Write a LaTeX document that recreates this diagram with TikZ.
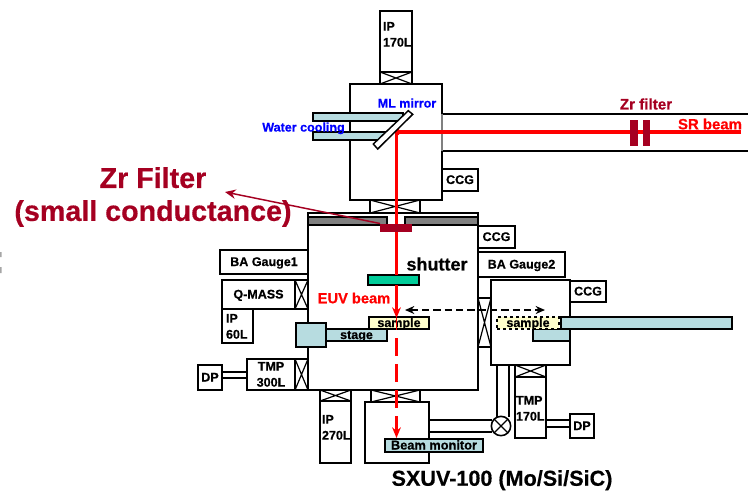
\documentclass[tikz,border=0pt]{standalone}
\usepackage{fontspec}
\setmainfont{Liberation Sans}[BoldFeatures={FakeBold=0.5}]
\usetikzlibrary{arrows.meta}
\definecolor{filt}{RGB}{165,0,33}
\definecolor{beamred}{RGB}{255,0,0}
\definecolor{mblue}{RGB}{0,0,255}
\definecolor{pale}{RGB}{183,220,224}
\definecolor{paley}{RGB}{255,255,204}
\definecolor{teal1}{RGB}{0,204,153}
\definecolor{gbar}{RGB}{128,128,128}
\tikzset{
  box/.style={draw=black,line width=1.3pt,fill=white,inner sep=0pt,outer sep=0pt,font=\bfseries\fontsize{9.4}{11}\selectfont,text height=6pt,text depth=0pt},
  thinbox/.style={box,line width=1pt},
  valve/.style={box,line width=1.1pt,path picture={\draw[black,line width=.9pt] (path picture bounding box.north west)--(path picture bounding box.south east) (path picture bounding box.north east)--(path picture bounding box.south west);}},
  lab/.style={inner sep=0pt,outer sep=0pt,font=\bfseries\fontsize{9.4}{11}\selectfont,text height=6.8pt,text depth=0pt},
  mlab/.style={inner sep=0pt,outer sep=0pt,font=\bfseries\fontsize{9.4}{12}\selectfont,align=left,anchor=north west},
  pipe/.style={draw=black,line width=1.2pt},
  beam/.style={draw=beamred,line width=2pt},
  tip/.style={-{Stealth[length=8pt,width=6.5pt]}},
  ddash/.style={draw=black,line width=1.3pt,dash pattern=on 5.5pt off 3pt,{Stealth[length=7pt,width=6pt]}-{Stealth[length=7pt,width=6pt]}}
}
\newcommand{\bx}[7][box]{\node[#1,minimum width={(#5-#3)*0.75pt},minimum height={(#6-#4)*0.75pt}] (#2) at ({(#3+#5)/2},{(#4+#6)/2}) {#7};}
\begin{document}
\begin{tikzpicture}[x=0.75pt,y=-0.75pt]
\useasboundingbox (0,0) rectangle (748,490);
% clipped marks at the left edge
\path[fill=gray!70] (0,252) rectangle (1.5,257) (0,267) rectangle (1.5,273);
% SR pipe
\coordinate (srTL) at (442,114); \coordinate (srTR) at (748,114);
\coordinate (srBL) at (442,151); \coordinate (srBR) at (748,151);
\draw[pipe] (srTL)--(srTR); \draw[pipe] (srBL)--(srBR);
% top pump and mirror chamber
\bx[valve]{vTop}{380}{72}{412}{84}{}
\bx{ipTop}{380}{11}{412}{72}{}
\bx{mirrorCh}{350}{84}{442}{200}{}
\bx[thinbox,fill=pale]{tubeA}{313}{114}{403}{120}{}
\bx[thinbox,fill=pale]{tubeB}{313}{133}{385}{139}{}
\draw[draw=gray,line width=1pt] (srTL)--(srBL);
% main chamber
\bx[valve]{vMid}{370}{200}{420}{213}{}
\bx{mainCh}{308}{213}{478}{390}{}
\bx[thinbox,fill=gbar]{barL}{308}{218}{387}{224}{}
\bx[thinbox,fill=gbar]{barR}{405}{218}{478}{224}{}
% left attachments
\bx{ba1}{220}{250}{308}{274}{BA Gauge1}
\bx{qmass}{222}{280}{295}{309}{Q-MASS}
\bx[valve]{vQ}{295}{280}{308}{309}{}
\bx{ip60}{222}{309}{253}{343}{}
\bx{tmp300}{247}{359}{295}{390}{}
\bx[valve]{v300}{295}{359}{308}{390}{}
\bx{dpL}{198}{365}{222}{390}{DP}
\draw[pipe,line width=1pt] (dpL.east |- 0,372)--(tmp300.west |- 0,372) (dpL.east |- 0,378)--(tmp300.west |- 0,378);
% bottom attachments
\bx[valve]{v270}{320}{390}{351}{401}{}
\bx{ip270}{320}{401}{351}{463}{}
\bx[valve]{vMon}{371}{390}{420}{402}{}
\bx{monCh}{365}{402}{429}{463}{}
% right chamber
\bx{ccgA}{442}{169}{478}{191}{CCG}
\bx{ccgB}{478}{226}{515}{248}{CCG}
\bx{ba2}{478}{252}{565}{277}{BA Gauge2}
\bx[valve]{vR}{478}{298}{491}{347}{}
\draw[pipe] (497,365)--(497,417) (509,365)--(509,417);
\bx[valve]{vT170}{515}{365}{546}{377}{}
\bx{tmp170}{515}{377}{546}{438}{}
\bx{rightCh}{491}{280}{570}{365}{}
\bx{ccgC}{570}{281}{606}{302}{CCG}
\bx{dpR}{570}{414}{594}{438}{DP}
\draw[pipe,line width=1pt] (tmp170.east |- 0,420)--(dpR.west |- 0,420) (tmp170.east |- 0,427)--(dpR.west |- 0,427);
\draw[pipe] (monCh.east |- 0,420)--(492,420) (monCh.east |- 0,432)--(492,432);
\node[draw=black,line width=1.2pt,fill=white,circle,minimum size=14.5pt,inner sep=0pt,outer sep=0pt,path picture={\draw[black,line width=.9pt] (path picture bounding box.north west)--(path picture bounding box.south east) (path picture bounding box.north east)--(path picture bounding box.south west);}] (gate) at (501,426) {};
% internals
\bx[thinbox,fill=paley]{sampleA}{369}{317}{429}{329}{sample}
\bx[thinbox,fill=pale]{stageBar}{326}{329}{387}{341}{stage}
\bx[thinbox,fill=pale]{stageBlk}{296}{323}{326}{347}{}
\bx[thinbox,fill=teal1]{shutterBar}{368}{275}{419}{285}{}
\bx[thinbox,fill=pale,font=\bfseries\fontsize{9.6}{11}\selectfont]{monitor}{385}{439}{483}{452}{Beam monitor}
\bx[thinbox,fill=pale]{shortBar}{533}{329}{570}{341}{}
\node[draw=black,line width=1pt,dash pattern=on 2.5pt off 2pt,fill=paley,inner sep=0pt,outer sep=0pt,minimum width=46.5pt,minimum height=9pt,font=\bfseries\fontsize{9.4}{11}\selectfont,text height=6pt,text depth=0pt] (sampleB) at (528,323) {sample};
\bx[thinbox,fill=pale]{longBar}{561}{317}{732}{329}{}
% beams
\coordinate (srEnd) at (741,132);
\coordinate (corner) at (396.5,132);
\coordinate (euvStop) at (396.5,318);
\coordinate (thru) at (396.5,330);
\coordinate (dashStart) at (396.5,338);
\coordinate (monStop) at (396.5,438);
\draw[beam,line width=2.3pt] (srEnd)--(corner);
\draw[beam] (corner)--(shutterBar.north -| corner);
\draw[beam,tip] (shutterBar.south -| corner)--(euvStop);
\draw[draw=beamred,line width=.7pt] (euvStop)--(thru);
\draw[beam,dash pattern=on 13.5pt off 6pt,tip] (dashStart)--(monStop);
\path[fill=beamred] (392.5,132)--(399,128.8)--(399,135.2)--cycle;
% mirror
\draw[black,line width=1.1pt,fill=white] (373.3,144)--(377.7,149)--(412.7,114.3)--(408.3,110.7)--cycle;
\bx[box,draw=none,fill=filt]{zrA}{630}{120}{638}{146}{}
\bx[box,draw=none,fill=filt]{zrB}{643}{120}{650}{146}{}
\bx[box,draw=none,fill=filt]{zrMain}{380}{224}{412}{231}{}
% dashed arrow
\coordinate (dL) at (405,310); \coordinate (dR) at (545,310);
\draw[ddash] (dL)--(dR);
% callout
\node[inner sep=0pt,text=filt,font=\bfseries\fontsize{21.5}{24.7}\selectfont,align=center] (zrBig) at (153,197) {Zr Filter\\(small conductance)};
\coordinate (callTip) at (225,192);
\draw[draw=filt,line width=1.1pt,{Stealth[length=8pt,width=7pt]}-] (callTip)--(zrMain.north west);
% labels
\node[mlab] (ipTopT) at (383,22) {IP\\170L};
\node[mlab] (ip60T) at (226,314) {IP\\60L};
\node[mlab,align=center,anchor=north] (tmp300T) at (271,362) {TMP\\300L};
\node[mlab] (ip270T) at (322,415) {IP\\270L};
\node[mlab] (tmp170T) at (516,396) {TMP\\170L};
\node[lab,text=mblue] (mlT) at (407,103) {ML mirror};
\node[lab,text=mblue] (waterT) at (303.5,127) {Water cooling};
\node[lab,text=filt,font=\bfseries\fontsize{11.4}{13}\selectfont,text height=8.2pt] (zrSmall) at (646,104) {Zr filter};
\node[lab,text=beamred,font=\bfseries\fontsize{11.2}{13}\selectfont,text height=8pt] (srT) at (710,124) {SR beam};
\node[lab,font=\bfseries\fontsize{13.5}{15}\selectfont,text height=9.7pt] (shutterT) at (437,264) {shutter};
\node[lab,text=beamred,font=\bfseries\fontsize{11}{13}\selectfont,text height=7.9pt] (euvT) at (354,298) {EUV beam};
\node[lab,font=\bfseries\fontsize{16.2}{18}\selectfont,text height=11.6pt] (sxuv) at (502,478) {SXUV-100 (Mo/Si/SiC)};
\end{tikzpicture}
\end{document}
